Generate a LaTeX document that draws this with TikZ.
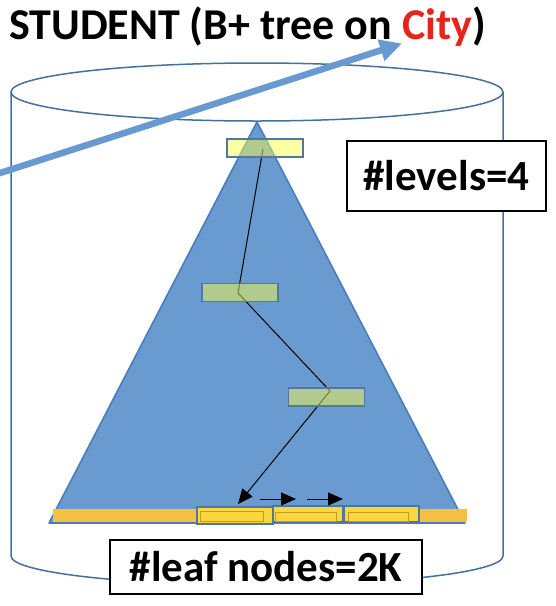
\documentclass[tikz,border=0pt]{standalone}
\usepackage{fontspec}
\setmainfont{Carlito}
\usetikzlibrary{arrows.meta}
\definecolor{cylcol}{RGB}{65,113,156}
\definecolor{trifill}{RGB}{106,155,208}
\definecolor{triline}{RGB}{74,126,187}
\definecolor{barcol}{RGB}{244,193,66}
\definecolor{leafcol}{RGB}{247,214,62}
\definecolor{leafline}{RGB}{79,118,160}
\definecolor{innerline}{RGB}{190,158,40}
\definecolor{nodecol}{RGB}{255,255,70}
\definecolor{nodeline}{RGB}{80,120,162}
\definecolor{cityred}{RGB}{230,36,28}
\definecolor{arrowblue}{RGB}{104,153,208}
\begin{document}
\begin{tikzpicture}[x=1pt,y=-1pt,
  cylline/.style={draw=cylcol,line width=1.5pt},
  inode/.style={draw=nodeline,line width=1.8pt,fill=nodecol,fill opacity=0.48,draw opacity=1,minimum width=76pt,minimum height=18pt,inner sep=0pt},
  leafbox/.style={draw=leafline,line width=1.8pt,fill=leafcol,inner sep=0pt},
  innerbox/.style={draw=innerline,line width=0.9pt,inner sep=0pt},
  pathline/.style={draw=black,line width=1pt},
  ptr/.style={draw=black,line width=1pt,-{Triangle[length=15pt,width=13pt]}},
  labelbox/.style={draw=black,line width=1.5pt,fill=white,inner sep=0pt,font=\bfseries\fontsize{43}{43}\selectfont}]
\useasboundingbox (0,0) rectangle (556,606);
% cylinder
\draw[cylline] (257,92) ellipse [x radius=246, y radius=29];
\draw[cylline] (11,92) -- (11,556) arc (180:0:246 and 29) -- (503,92);
% tree triangle
\draw[fill=trifill,draw=triline,line width=1.6pt,line join=round] (257,122) -- (465,523) -- (49,523) -- cycle;
% leaf level bar
\fill[barcol] (53,509) rectangle (467,522);
% leaf nodes
\node[leafbox,minimum width=76pt,minimum height=17pt] (l1) at (235,515.5) {};
\node[leafbox,minimum width=70pt,minimum height=16pt] (l2) at (308,514) {};
\node[leafbox,minimum width=75pt,minimum height=16pt] (l3) at (381.5,514) {};
\node[innerbox,minimum width=63pt,minimum height=10pt] (i1) at (231.5,516) {};
\node[innerbox,minimum width=61pt,minimum height=9pt] (i2) at (305.5,516.5) {};
\node[innerbox,minimum width=60pt,minimum height=9pt] (i3) at (378,516.5) {};
% search path (under the internal nodes)
\coordinate (n1c) at (263,149);
\coordinate (n2c) at (238,293);
\coordinate (n3c) at (330,391);
\draw[pathline] (n1c) -- (n2c) -- (n3c);
\draw[ptr] (n3c) -- ([xshift=3pt,yshift=2pt]l1.north);
% sibling pointers
\coordinate (h1s) at (260,499);
\coordinate (h1e) at (296,499);
\coordinate (h2s) at (307,499);
\coordinate (h2e) at (343,499);
\draw[ptr] (h1s) -- (h1e);
\draw[ptr] (h2s) -- (h2e);
% internal nodes
\node[inode] (n1) at (265,148) {};
\node[inode] (n2) at (240,292.5) {};
\node[inode] (n3) at (326.5,397) {};
% title
\node[anchor=base west,inner sep=0pt,font=\bfseries\fontsize{44}{44}\selectfont] (title) at (9,39) {STUDENT (B+ tree on \textcolor{cityred}{City})};
% big arrow
\coordinate (ain) at (-12,176.9);
\coordinate (atip) at (402,43.5);
\draw[draw=arrowblue,line width=6.5pt,-{Triangle[length=22pt,width=21pt]}] (ain) -- (atip);
% label boxes
\node[labelbox,minimum width=199pt,minimum height=70pt] (levels) at (446.5,176) {\#levels=4};
\node[labelbox,minimum width=312pt,minimum height=54pt] (leaves) at (266,567) {\#leaf nodes=2K};
\end{tikzpicture}
\end{document}
